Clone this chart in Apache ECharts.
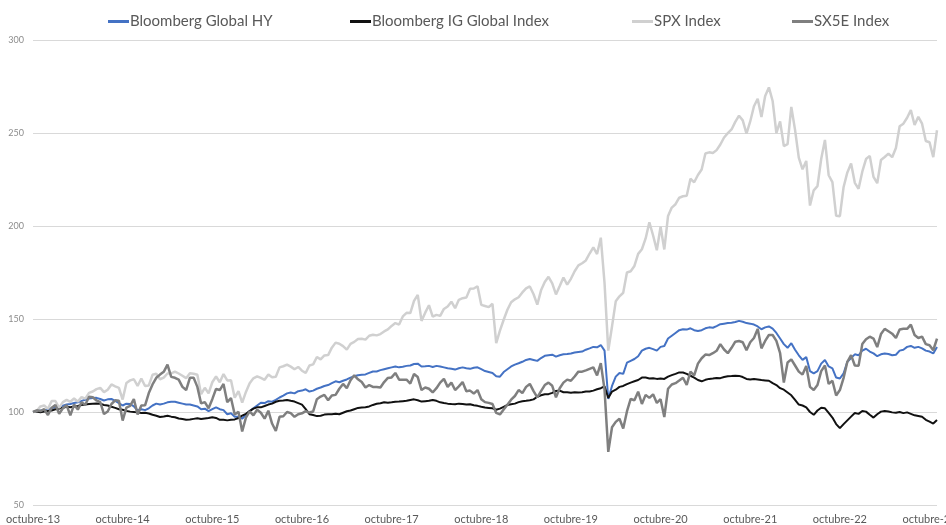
<!DOCTYPE html>
<html>
<head>
<meta charset="utf-8">
<title>Índices</title>
<script src="https://cdn.jsdelivr.net/npm/echarts@6.0.0/dist/echarts.min.js"></script>
<style>
    html, body { margin: 0; padding: 0; background: #fff; }
    #chart { width: 946px; height: 525px; }
</style>
</head>
<body>
<div id="chart"></div>
<script>
// one point every half month, from mid-October 2013 to mid-November 2023
var yearLabels = ['octubre-13', 'octubre-14', 'octubre-15', 'octubre-16', 'octubre-17', 'octubre-18',
    'octubre-19', 'octubre-20', 'octubre-21', 'octubre-22', 'octubre-23'];

var seriesNames = ['Bloomberg Global HY', 'Bloomberg IG Global Index', 'SPX Index', 'SX5E Index'];

var hyValues = [
    100, 100.5, 100.8, 101, 101.4, 102, 102.8, 102.6, 103.4, 104, 104.3, 104.8, 105.2, 106, 106.6, 107.2, 107.5, 107.6, 107, 106.2, 106.8, 107, 106, 104.8,
    103.5, 104.5, 104.3, 103, 100.8, 101.5, 101, 102, 103.5, 104.5, 104, 104.5, 105.2, 105.5, 105.5, 105, 104.5, 104, 104, 103.5, 103, 101.5, 101.8, 100.5,
    101.5, 102.5, 101.5, 101, 98.8, 99.3, 97.5, 97.5, 96.4, 98.5, 100.5, 102, 103.5, 105, 104.8, 105.8, 105.5, 106.5, 107.8, 108.8, 110, 110.5, 110, 111.2,
    111.5, 112.2, 111, 111.5, 112.5, 113.2, 114, 114.5, 115.5, 116.5, 116, 116.8, 117.5, 118.5, 119.2, 119.8, 120, 120.2, 121, 121.8, 121.8, 122.5, 123, 123.5,
    124, 124.5, 124, 124.3, 124.8, 125, 125.8, 126, 124.5, 124.6, 124.8, 124.2, 124.8, 124.5, 124, 123.5, 123.3, 122.8, 123.5, 124, 123.5, 123.2, 123.8, 124,
    123, 122, 121.5, 121, 119.2, 119, 121.5, 123, 124.5, 125.5, 126.2, 127, 128, 128.5, 128, 127.5, 129, 130.2, 130.5, 130.8, 129.8, 130.5, 131, 131.2,
    131.5, 132, 132.3, 132.5, 133.5, 134.2, 135, 134.8, 136, 133, 107, 114, 119, 121, 120.5, 126.5, 127.5, 128.5, 130, 133, 134, 134.5, 133.8, 133,
    135, 135.5, 139.5, 141, 142.5, 144, 144.5, 144.3, 145, 144, 143.5, 144, 145, 145.5, 145.3, 146.2, 147.2, 147.5, 147.8, 148, 148.4, 149, 148.5, 147.8,
    147.5, 147, 146, 144.5, 145.5, 146, 144.8, 142.5, 139.5, 136.5, 134.5, 137, 133.5, 130.5, 128, 129.5, 122, 120.8, 122, 126, 128, 124.5, 123.5, 118.5,
    118, 120.8, 127, 129, 131, 130.5, 133, 134, 132.5, 131.5, 130, 131, 131.5, 131.2, 130.5, 130.8, 133, 133.5, 135, 135.5, 134.5, 135, 134.2, 133,
    132.5, 131.5, 135
];

var igValues = [
    100, 100.3, 99.8, 100.2, 100.5, 100.8, 101.5, 101.8, 102.3, 102.8, 102.6, 102.9, 103.3, 103.8, 104, 104.3, 104.5, 104.6, 104.4, 103.8, 103.5, 102.8, 102.2, 101.5,
    101.2, 100.6, 100.2, 100, 99.8, 99.5, 99.6, 99.2, 98.5, 98, 97.3, 97.6, 98, 97.5, 97.2, 96.5, 96.2, 95.8, 96, 96.3, 96.6, 96.2, 96.5, 96.8,
    97.2, 96.8, 95.8, 95.8, 95.5, 95.8, 96, 96.8, 98, 99, 100.5, 101.8, 102.5, 102.5, 103.2, 104, 104.5, 105.5, 106, 106.2, 106.5, 106, 105.6, 104.8,
    104, 101.5, 98.8, 98.4, 97.8, 98, 98.6, 98.8, 98.8, 99, 98.8, 99.6, 100.4, 100.8, 101.5, 102.2, 102.4, 102.6, 103, 103.8, 104.4, 104.7, 105.2, 105,
    105.2, 105.5, 105.6, 105.8, 106, 106.5, 106.8, 106.3, 105.6, 105.8, 106, 106.5, 106, 105.2, 104.8, 104.5, 104.3, 104.2, 104.5, 104.3, 104, 104.2, 103.6, 103.3,
    102.8, 102.4, 102.2, 102, 101.2, 101.8, 102.8, 103.8, 104.2, 104.5, 105.3, 105.8, 106, 106.3, 106.8, 108.2, 109, 109.5, 109.6, 110.3, 111.3, 111.5, 110.6, 110.6,
    110.4, 110.6, 110.5, 110.6, 111, 111, 111.5, 112.2, 112.8, 113.8, 107.5, 111, 112, 113.5, 114, 115, 115.8, 116.5, 117.2, 118.5, 118.5, 118, 118.2, 117.8,
    118, 117.8, 119, 119.8, 120.5, 121.3, 121.2, 120.5, 119.5, 118.5, 117.2, 116.5, 117.3, 117.8, 118, 118.3, 118.2, 118.8, 119.2, 119.3, 119.5, 119.4, 118.8, 117.8,
    117.5, 117.8, 117.5, 117.2, 117, 116.8, 115.5, 114.5, 112.8, 112, 110.5, 109, 106.5, 104, 103.5, 102.5, 100, 98.5, 100.8, 102.3, 102, 99.5, 97, 93.5,
    91.3, 93.5, 95.5, 97.5, 99.5, 99, 100.5, 100.2, 98.5, 97, 98.8, 100.2, 100.5, 100.3, 99.8, 99.6, 100, 99.4, 99.8, 99, 98.2, 97.8, 97.4, 95.8,
    94.8, 93.8, 95.7
];

var spxValues = [
    100, 100.7, 103, 103.5, 101.7, 105.9, 105.9, 102.2, 105.3, 106.5, 105.5, 107.3, 105.6, 108, 107.2, 110.3, 111, 112.3, 113, 110.7, 112, 114.8, 113.8, 113,
    106.7, 115.6, 117, 117.6, 114, 118, 114, 114.3, 120, 120.6, 117.6, 118.5, 120.7, 120.8, 121.7, 120.7, 119.5, 118.2, 120.8, 120.6, 120, 109.6, 113, 110,
    116, 119.1, 116, 120.4, 117, 117.1, 107.7, 111.2, 105, 110.8, 115.5, 118.1, 119.2, 118.3, 117.3, 120.2, 118.7, 119, 124, 124.6, 125.5, 124.4, 123, 124.2,
    122.2, 121, 125, 125.6, 129.6, 128.3, 130.4, 130.6, 134.6, 137.3, 136.7, 135.4, 133.5, 136.6, 137.7, 139.3, 139.4, 138.9, 141, 141.5, 141.2, 141.9, 143.3, 144.4,
    146.3, 147.8, 147, 151.4, 153.3, 153.2, 159.7, 163, 149, 153.4, 157.4, 151.3, 152.2, 151.7, 155.4, 156.7, 159.3, 155.8, 160.3, 161.2, 161.5, 166.3, 166.4, 167.6,
    157.6, 157, 156.4, 158.2, 137, 143.7, 149.6, 155, 159, 160.6, 161.7, 164.3, 166.5, 167.5, 163.3, 157.7, 165.4, 169.9, 172.7, 169.2, 163.2, 167.7, 172.3, 168.5,
    171.6, 175.7, 178.8, 180, 181.5, 185.2, 188.5, 184.9, 193.7, 169.3, 133, 146, 159.5, 162.2, 164.1, 175, 175.7, 178.5, 185, 187.5, 193.3, 202, 194.9, 187,
    199.6, 187.4, 205.4, 209.9, 211.7, 215.2, 216, 216.3, 225.4, 223.5, 227.4, 230.4, 239, 239.6, 239.2, 240.8, 243.8, 247.6, 249.9, 251.9, 256, 259.3, 256.8, 249.7,
    256.2, 264.4, 268.4, 258.6, 269.9, 274.5, 267.2, 250, 256.2, 243, 244, 264, 251.7, 236.8, 230.5, 235, 211, 219.2, 221.4, 236, 246.3, 227.3, 223.6, 205.5,
    205.3, 221, 228.8, 233.6, 223.2, 220, 229.2, 236, 237.7, 226.4, 223, 235.5, 237.1, 238.9, 237, 241.9, 253.6, 255, 258.2, 262.3, 254.3, 258.7, 255, 245.7,
    245, 237, 251.5
];

var sx5eValues = [
    100, 100.9, 100.5, 101.5, 98.4, 102.3, 103.8, 99.1, 102, 103.6, 98.2, 104, 101.3, 105.2, 103.9, 108.2, 107.9, 106.2, 105.3, 98.9, 100.3, 104.3, 106.3, 106.1,
    95.4, 102.4, 103.3, 106.9, 98.7, 103.5, 103.6, 110.2, 114.8, 118.4, 120.1, 121.6, 125.5, 118.9, 118.4, 117.4, 113.5, 111.8, 118.4, 118.4, 113.5, 104.6, 105.3, 102,
    106.9, 112.4, 111.8, 115.1, 105.3, 107.5, 98.7, 100.2, 89.5, 97, 100.3, 98.2, 101.3, 99.6, 96.4, 100.7, 93.8, 89.8, 97.4, 97.7, 100, 99.4, 97.4, 98.8,
    99.3, 100.5, 99.7, 100.3, 106.9, 108.3, 109.2, 106.3, 108.9, 109.2, 112.5, 115.1, 112.8, 117.1, 119.7, 117.6, 116.1, 113.2, 114.5, 113.5, 113.5, 113.2, 116.1, 118.3,
    118.6, 121, 117.4, 117.4, 117.4, 115.3, 120.4, 118.8, 111.8, 113.2, 112.5, 110.5, 112.8, 115.8, 117.8, 113.5, 115.8, 111.8, 113.8, 116.1, 111.2, 111.5, 109.9, 111.8,
    106.9, 105.3, 104.9, 104.3, 99.5, 98.7, 101.3, 103.9, 106.6, 108.6, 111.8, 110.2, 113.5, 115.1, 111.2, 107.9, 111.2, 114.5, 115.8, 114.1, 107.9, 112.8, 115.8, 117.4,
    116.8, 119.1, 121.7, 121.7, 122.4, 123.2, 124, 119.7, 126.3, 112, 78.6, 91.8, 94.7, 96.4, 91.1, 100.3, 107, 106.3, 110.9, 104.3, 109.2, 107.6, 109.5, 104.9,
    106.9, 97.3, 112.5, 114.8, 115.5, 116.9, 118.4, 114.5, 121.7, 119.7, 126, 128.9, 130.9, 130.6, 131.6, 132.9, 136.5, 133.6, 131.6, 134.5, 137.8, 138.2, 137.5, 133.2,
    137.5, 139.8, 144.7, 134.2, 138.2, 141.4, 141.4, 138.2, 131.6, 115.8, 126.6, 128.3, 125, 121.7, 120.1, 124.7, 113.5, 111.8, 114.5, 122, 125, 115.1, 116.8, 108.9,
    111.8, 118.4, 127, 130.6, 125, 124.8, 136.5, 139.1, 140.5, 139.5, 134.9, 141.9, 144.7, 143.4, 142.1, 139.8, 144.4, 144.7, 144.7, 147, 141.4, 139.8, 140.5, 136.5,
    135.9, 133.2, 139.5
];

var seriesColors = ['#4472C4', '#111111', '#D0D0D0', '#7F7F7F'];

window.onload = function() {
    var allValues = [hyValues, igValues, spxValues, sx5eValues];
    for (var k = 0; k < allValues.length; k++) {
        if (allValues[k].length !== 243) {
            throw new Error(seriesNames[k] + ' has ' + allValues[k].length + ' points');
        }
    }

    // category per half month, a year label every 24 points
    var xCategories = [];
    for (var i = 0; i < hyValues.length; i++) {
        xCategories.push(String(i));
    }

    var chart = echarts.init(document.getElementById('chart'));

    var legendLeft = [103, 345, 627, 787];
    var legends = [];
    for (var j = 0; j < seriesNames.length; j++) {
        legends.push({
            data: [seriesNames[j]],
            left: legendLeft[j],
            top: 9,
            icon: 'rect',
            itemWidth: 21,
            itemHeight: 3,
            selectedMode: false,
            textStyle: {
                fontFamily: 'Lato',
                fontSize: 15,
                color: '#595959',
                padding: [0, 0, 0, -4]
            }
        });
    }

    var widths = [2, 2, 2.5, 2.5];
    var series = [];
    for (var s = 0; s < seriesNames.length; s++) {
        series.push({
            name: seriesNames[s],
            type: 'line',
            data: allValues[s],
            symbol: 'none',
            lineStyle: { width: widths[s], color: seriesColors[s] },
            itemStyle: { color: seriesColors[s] }
        });
    }

    var option = {
        animation: false,
        backgroundColor: '#ffffff',
        legend: legends,
        grid: {
            left: 33,
            right: 9,
            top: 40,
            bottom: 20,
            outerBoundsMode: 'none'
        },
        xAxis: {
            type: 'category',
            boundaryGap: false,
            data: xCategories,
            axisLine: { show: false },
            axisTick: { show: false },
            axisLabel: {
                interval: function(index) { return index % 24 === 0; },
                formatter: function(value, index) { return yearLabels[index / 24] || ''; },
                fontFamily: 'Lato',
                fontSize: 11,
                color: '#595959',
                margin: 9
            },
            splitLine: { show: false }
        },
        yAxis: {
            type: 'value',
            min: 50,
            max: 300,
            interval: 50,
            axisLine: { show: false },
            axisTick: { show: false },
            axisLabel: {
                fontFamily: 'Lato',
                fontSize: 9,
                color: '#8C8C8C',
                margin: 9
            },
            splitLine: { lineStyle: { color: '#D9D9D9', width: 1 } }
        },
        series: series
    };

    chart.setOption(option);
};
</script>
</body>
</html>
